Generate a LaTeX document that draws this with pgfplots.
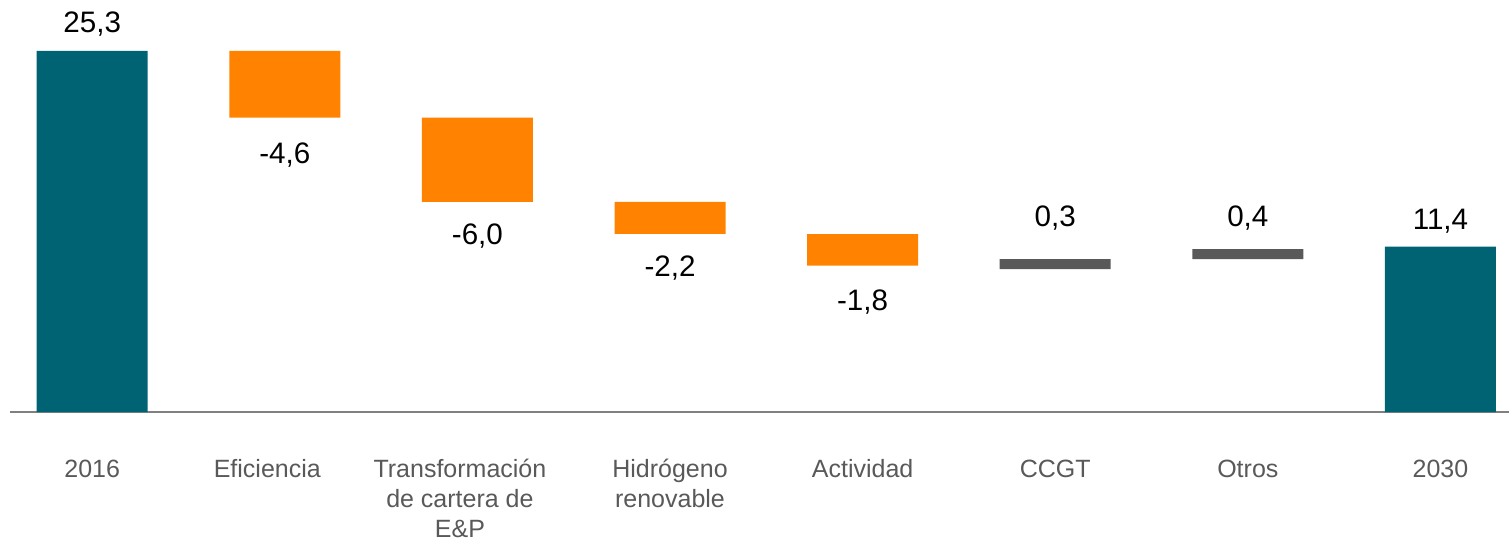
\documentclass[border=0pt]{standalone}
\usepackage{fontspec}
\setmainfont{Liberation Sans}
\usepackage{pgfplots}
\usepackage{pgfplotstable}
\pgfplotsset{compat=1.18}
\definecolor{petrol}{HTML}{006373}
\definecolor{naranja}{HTML}{FF8300}
\definecolor{barragris}{HTML}{595959}
\definecolor{ejegris}{HTML}{808080}
\definecolor{textogris}{HTML}{595959}

% waterfall: invisible base + visible segment
\pgfplotstableread{
x base total red aum
0 0     25.30 0    0
1 20.62 0     4.68 0
2 14.72 0     5.90 0
3 12.49 0     2.23 0
4 10.25 0     2.22 0
5 10.02 0     0    0.70
6 10.72 0     0    0.70
7 0     11.58 0    0
}\barras

\pgfplotstableread{
x y lbl
0 26.56 25,3
1 17.38 -4,6
2 11.77 -6,0
3 9.46 -2,2
4 7.08 -1,8
5 12.98 0,3
6 13.03 0,4
7 12.80 11,4
}\etiquetas

\pgfplotsset{marco/.style={scale only axis, width=754.5pt, height=206pt,
  xmin=-0.4787, xmax=7.356, ymin=0, ymax=28.87,
  at={(0pt,62.5pt)}, anchor=south west}}

\begin{document}
\begin{tikzpicture}
\begin{axis}[marco, ybar stacked, bar width=55.5pt,
    axis y line=none, axis x line*=bottom,
    x axis line style={ejegris, line width=0.75pt, shorten <=5pt, -},
    xtick={0,3,4,5,6,7},
    xticklabels={2016, {Hidrógeno\\renovable}, Actividad, CCGT, Otros, 2030},
    extra x ticks={1,2},
    extra x tick labels={Eficiencia, {Transformación\\de cartera de\\E\&P}},
    extra x tick style={xticklabel style={xshift=-8.75pt}},
    major tick length=0pt, typeset ticklabels with strut,
    xticklabel style={align=center, anchor=north, inner sep=0pt, yshift=-22pt,
      font=\fontsize{12.5}{15}\selectfont, text=textogris},
    clip=false]
  \addplot[draw=none, fill=none] table[x=x, y=base] {\barras};
  \addplot[draw=none, fill=petrol] table[x=x, y=total] {\barras};
  \addplot[draw=none, fill=naranja] table[x=x, y=red] {\barras};
  \addplot[draw=none, fill=barragris] table[x=x, y=aum] {\barras};
\end{axis}
\begin{axis}[marco, hide axis, clip=false]
  \addplot[draw=none, mark=none, nodes near coords, point meta=explicit symbolic,
    nodes near coords style={anchor=base, inner sep=0pt,
      font=\fontsize{14.8}{17}\selectfont, text=black}]
    table[x=x, y=y, meta=lbl] {\etiquetas};
\end{axis}
\pgfresetboundingbox
\path[use as bounding box] (0,0) rectangle (754.5pt,268.5pt);
\end{tikzpicture}
\end{document}
